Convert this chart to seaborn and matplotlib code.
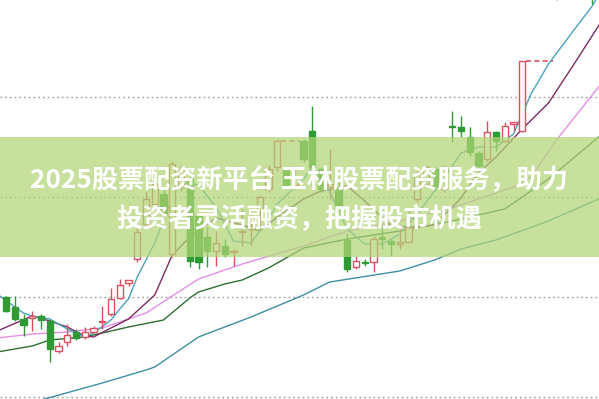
import numpy as np
import pandas as pd
import matplotlib
matplotlib.use("Agg")
import matplotlib.pyplot as plt
import seaborn as sns

# ---------------- data ----------------
opens  = [10.0, 9.0, 7.8, 7.9, 8.1, 7.6, 4.6, 5.5, 6.5, 6.0,
          6.5, 7.5, 8.3, 9.9, 11.4, 13.8, 17.3, 19.3, 20.3, 14.3,
          21.0, 21.8, 18.1, 16.0, 14.6, 15.1, 14.5, 16.5, 16.8, 18.6,
          20.8, 23.0, 22.8, 21.2, 25.6, 26.6, 22.8, 21.0, 20.8, 15.7,
          13.0, 13.5, 13.5, 16.0, 15.6, 15.3, 15.5, 19.8, 21.3, 22.8,
          20.8, 27.1, 27.0, 26.0, 24.4, 23.8, 26.5, 25.6, 27.3, 26.6,
          40.3, 41.5, 44.0, 41.0, 45.5, 47.5, 46.5, 47.5]
closes = [8.6, 7.8, 7.2, 8.1, 7.7, 4.8, 5.1, 6.2, 5.9, 6.5,
          6.9, 7.6, 9.8, 11.2, 11.7, 16.5, 19.8, 21.3, 18.3, 23.3,
          22.8, 13.6, 13.5, 14.6, 15.4, 14.3, 14.6, 16.6, 17.1, 20.0,
          22.8, 25.6, 21.0, 22.0, 23.8, 23.0, 20.8, 21.3, 18.8, 12.8,
          13.6, 13.4, 15.8, 15.8, 15.3, 15.5, 17.0, 22.3, 23.0, 21.0,
          23.0, 27.0, 26.6, 24.5, 23.1, 26.5, 25.6, 27.1, 27.5, 33.6,
          40.3, 44.5, 43.0, 45.0, 47.0, 46.0, 48.0, 44.0]
highs  = [10.1, 10.1, 8.3, 8.6, 8.3, 7.8, 5.5, 7.3, 6.8, 7.0,
          7.1, 9.1, 10.9, 11.8, 11.7, 17.1, 20.5, 21.8, 21.0, 23.6,
          23.2, 22.3, 18.5, 17.0, 16.6, 15.8, 14.8, 18.8, 18.6, 20.1,
          23.2, 25.8, 23.0, 22.8, 25.8, 29.1, 23.0, 24.8, 21.5, 16.4,
          14.1, 13.8, 16.1, 17.0, 15.8, 17.1, 18.8, 22.8, 23.2, 23.0,
          23.2, 28.6, 28.1, 27.0, 24.6, 27.6, 26.6, 27.5, 27.5, 33.6,
          40.3, 45.0, 46.0, 46.0, 48.0, 49.0, 49.0, 48.0]
lows   = [8.5, 7.6, 6.1, 6.6, 6.8, 3.5, 4.4, 5.1, 5.7, 5.8,
          6.4, 6.8, 8.1, 9.8, 11.1, 13.5, 17.0, 18.8, 17.8, 14.0,
          20.6, 13.0, 12.8, 13.0, 13.1, 14.0, 13.1, 15.1, 15.1, 17.1,
          20.5, 22.6, 20.8, 20.8, 23.5, 21.1, 20.5, 19.8, 18.5, 12.5,
          12.8, 13.1, 12.5, 14.8, 14.1, 14.8, 15.5, 19.5, 21.0, 20.6,
          20.5, 25.5, 26.0, 24.1, 23.0, 23.6, 24.6, 25.5, 26.6, 26.5,
          40.3, 41.0, 42.0, 39.7, 44.5, 45.0, 45.5, 39.3]

# moving-average lines (day, value)
ma5_day  = [-1, 1, 2, 3, 5, 7, 9, 10, 12, 13, 14, 15, 17, 19, 20, 22, 24, 26, 28, 30,
            31, 34, 35, 37, 39, 41, 43, 45, 47, 50, 52, 54, 56, 58, 60, 62, 65, 67, 68]
ma5_val  = [10.3, 9.0, 8.4, 8.1, 7.8, 6.8, 6.0, 6.4, 7.7, 8.8, 9.8, 12.0, 15.4, 20.0, 21.5,
            21.2, 19.0, 15.6, 15.4, 17.8, 19.3, 21.8, 23.0, 20.5, 16.8, 15.3, 15.3, 16.3,
            18.3, 21.8, 24.4, 25.0, 25.0, 26.3, 30.3, 33.3, 36.8, 39.1, 40.6]
ma10_day = [-1, 3, 5, 7, 9, 10, 12, 14, 17, 19, 21, 24, 27, 29, 31, 34, 36, 39, 41, 44,
            47, 49, 52, 54, 56, 59, 62, 65, 68]
ma10_val = [6.6, 8.1, 7.6, 7.0, 6.1, 6.0, 6.9, 7.8, 10.2, 14.2, 16.0, 17.9, 17.2, 16.6,
            18.0, 19.8, 20.6, 21.1, 19.6, 17.1, 17.0, 17.2, 19.9, 22.4, 24.0, 26.8, 29.4,
            33.4, 37.5]
ma20_day = [-1, 3, 7, 11, 14, 16, 22, 27, 34, 39, 45, 51, 58, 60, 63, 68]
ma20_val = [5.9, 6.3, 6.5, 6.9, 7.8, 8.4, 11.8, 13.3, 15.1, 16.6, 17.6, 18.9, 21.0, 22.0,
            25.8, 31.3]
ma30_day = [-1, 3, 5, 9, 12, 14, 18, 21, 22, 25, 27, 30, 34, 39, 45, 51, 57, 62, 68]
ma30_val = [4.5, 5.1, 5.7, 6.0, 6.6, 7.0, 7.7, 9.9, 10.5, 11.3, 11.7, 12.9, 14.9, 15.8,
            16.6, 17.6, 18.8, 21.8, 26.2]
ma60_day = [4, 11, 16, 17, 22, 28, 34, 37, 45, 49, 52, 56, 62, 68]
ma60_val = [-0.3, 1.4, 2.7, 3.0, 6.0, 8.0, 10.2, 11.5, 12.6, 13.7, 14.8, 15.7, 17.6, 19.9]

# dashed gap markers: (start day, end day, level)
gap_start = [31, 59]
gap_end   = [33.6, 62.5]
gap_level = [25.6, 33.6]

grid_levels = [0, 10, 20, 30]

title_lines = ["2025股票配资新平台 玉林股票配资服务，助力",
               "投资者灵活融资，把握股市机遇"]

# ---------------- drawing ----------------
sns.set_theme(style="white")
plt.rcParams["font.family"] = ["Noto Sans CJK SC", "DejaVu Sans"]

W, H = 599, 399
fig = plt.figure(figsize=(W / 100, H / 100), dpi=100)
ax = fig.add_axes([0, 0, 1, 1])
ax.set_facecolor("white")

n = len(opens)
days = np.arange(n)
df = pd.DataFrame({"day": days, "open": opens, "close": closes,
                   "high": highs, "low": lows})
df["up"] = df["close"] >= df["open"]

RED = "#d9505e"
GREEN = "#2f9a34"

for lv in grid_levels:
    ax.axhline(lv, color="#9a9a9a", lw=1.0, ls=(0, (1.2, 2.2)), zorder=1)

# MA lines through seaborn
ma_specs = [(ma60_day, ma60_val, "#3d8fa3"),
            (ma30_day, ma30_val, "#2e6e33"),
            (ma20_day, ma20_val, "#e58ee6"),
            (ma10_day, ma10_val, "#7c2c62"),
            (ma5_day, ma5_val, "#4aa2bd")]
for d, v, c in ma_specs:
    sns.lineplot(x=d, y=v, ax=ax, color=c, lw=1.0, sort=False,
                 estimator=None, zorder=2)

width = 0.72
for _, r in df.iterrows():
    col = RED if r["up"] else GREEN
    lo_b, hi_b = sorted([r["open"], r["close"]])
    ax.vlines(r["day"], r["low"], r["high"], color=col, lw=1.0, zorder=3)
    h = max(hi_b - lo_b, 0.12)
    if r["up"]:
        ax.bar(r["day"], h, bottom=lo_b, width=width, facecolor="white",
               edgecolor=col, lw=1.0, zorder=4)
    else:
        ax.bar(r["day"], h, bottom=lo_b, width=width, facecolor=col,
               edgecolor=col, lw=1.0, zorder=4)

for s, e, lv in zip(gap_start, gap_end, gap_level):
    ax.hlines(lv, s + 0.4, e, color=RED, lw=1.2, ls=(0, (3, 2)), zorder=3)

x0 = -6 / 8.75
x1 = (W - 6) / 8.75
ax.set_xlim(x0, x1)
ax.set_ylim(-0.2, 39.7)
ax.axis("off")

# green banner
ax.axhspan((398 - 258) / 10, (398 - 138) / 10, color="#b2d678", alpha=0.72,
           lw=0, zorder=6)

fs = 18.8
fig.text(0.5, 1 - 181 / H, title_lines[0], ha="center", va="center",
         fontsize=fs, fontweight="bold", color="white", zorder=10,
         family=["Noto Sans CJK SC", "DejaVu Sans"])
fig.text(0.5, 1 - 220 / H, title_lines[1], ha="center", va="center",
         fontsize=fs, fontweight="bold", color="white", zorder=10,
         family=["Noto Sans CJK SC", "DejaVu Sans"])

fig.savefig("out.png", dpi=100, facecolor="white")
